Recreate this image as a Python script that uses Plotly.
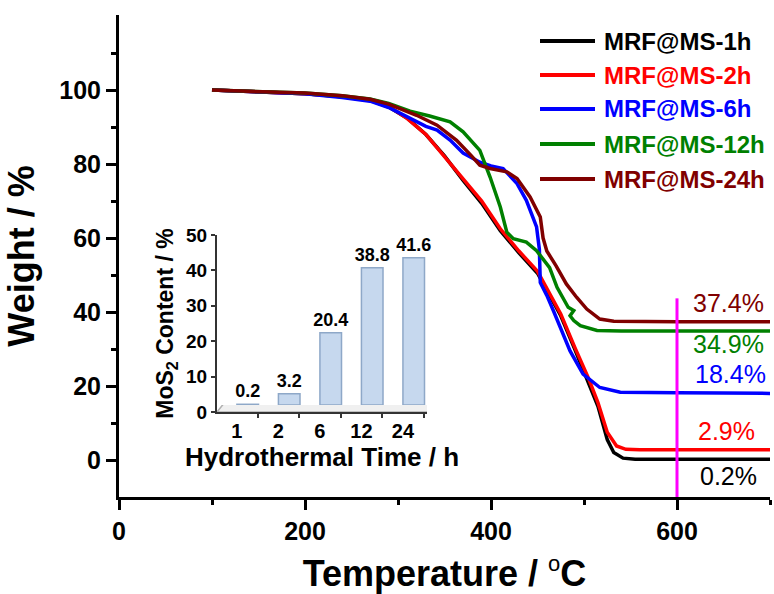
import plotly.graph_objects as go

# ---------------- data ----------------
series_names = ["MRF@MS-1h", "MRF@MS-2h", "MRF@MS-6h", "MRF@MS-12h", "MRF@MS-24h"]
series_colors = ["#000000", "#ff0000", "#0000ff", "#008000", "#800000"]

temp_1h = [100, 150, 200, 240, 270, 290, 310, 330, 350, 370, 390, 410, 430, 450, 460, 475, 490, 505, 515, 525, 532, 542, 555, 600, 650, 700]
weight_1h = [100, 99.6, 99.0, 98.2, 97.2, 95.4, 92.4, 88.0, 82.2, 75.6, 69.4, 62.0, 56.0, 50.5, 46.0, 39.0, 30.0, 21.0, 14.5, 5.5, 2.0, 0.5, 0.2, 0.2, 0.2, 0.2]

temp_2h = [100, 150, 200, 240, 270, 290, 310, 330, 350, 370, 390, 410, 430, 450, 460, 475, 490, 505, 515, 525, 535, 545, 560, 600, 650, 700]
weight_2h = [100, 99.6, 99.0, 98.3, 97.3, 95.6, 92.3, 88.0, 82.0, 76.2, 70.0, 62.5, 56.5, 51.0, 46.5, 39.5, 30.5, 22.0, 15.5, 7.5, 3.8, 2.9, 2.8, 2.8, 2.8, 2.8]

temp_6h = [100, 150, 200, 240, 270, 290, 310, 330, 342, 356, 370, 388, 400, 413, 428, 438, 449, 452, 453, 460, 467, 476, 485, 499, 517, 539, 560, 600, 650, 700]
weight_6h = [100, 99.6, 99.0, 98.0, 97.0, 95.3, 92.7, 90.2, 89.2, 86.5, 83.0, 80.5, 79.5, 78.8, 74.7, 70.2, 63.0, 57.0, 48.0, 44.5, 40.4, 35.0, 29.5, 23.2, 19.6, 18.3, 18.2, 18.2, 18.1, 18.0]

temp_12h = [100, 150, 200, 240, 270, 290, 313, 334, 356, 370, 388, 399, 410, 417, 424, 438, 449, 463, 471, 483, 489, 485, 489, 496, 514, 540, 600, 650, 700]
weight_12h = [100, 99.7, 99.2, 98.5, 97.6, 96.4, 94.3, 93.0, 91.4, 88.7, 83.7, 76.5, 68.4, 61.6, 59.8, 58.9, 56.6, 52.0, 46.7, 41.3, 40.4, 39.0, 37.7, 36.3, 35.0, 34.9, 34.9, 34.9, 34.9]

temp_24h = [100, 150, 200, 240, 270, 290, 320, 342, 363, 378, 388, 399, 417, 428, 442, 453, 456, 460, 470, 481, 492, 503, 517, 532, 560, 600, 650, 700]
weight_24h = [100, 99.7, 99.2, 98.5, 97.5, 96.2, 93.2, 90.5, 86.4, 82.5, 79.7, 78.8, 77.9, 76.1, 71.1, 65.7, 60.0, 56.5, 52.5, 47.6, 44.0, 40.8, 38.1, 37.5, 37.4, 37.4, 37.4, 37.4]

residue_labels = ["0.2%", "2.9%", "18.4%", "34.9%", "37.4%"]

ref_temp = [600, 600]
ref_weight = [-10, 43.7]

hyd_time = ["1", "2", "6", "12", "24"]
mos2_content = [0.2, 3.2, 20.4, 38.8, 41.6]

temps = [temp_1h, temp_2h, temp_6h, temp_12h, temp_24h]
weights = [weight_1h, weight_2h, weight_6h, weight_12h, weight_24h]

# ---------------- layout helpers ----------------
W, H = 774, 594
ML, MR, MT, MB = 119, 4, 15, 97
PW, PH = W - ML - MR, H - MT - MB


def pxx(px):
    return (px - ML) / PW


def pxy(py):
    return (H - MB - py) / PH


FONT = "Liberation Sans, Arial, sans-serif"

fig = go.Figure()

for t, w, name, col in zip(temps, weights, series_names, series_colors):
    fig.add_trace(go.Scatter(x=t, y=w, mode="lines", name=name,
                             line=dict(color=col, width=3.5), showlegend=False))

fig.add_trace(go.Scatter(x=ref_temp, y=ref_weight, mode="lines",
                         line=dict(color="#ff00ff", width=3), showlegend=False,
                         cliponaxis=False))

# inset bars
fig.add_trace(go.Bar(x=hyd_time, y=mos2_content, xaxis="x2", yaxis="y3",
                     width=0.52, offset=0,
                     marker=dict(color="#c6d8ee", line=dict(color="#8ea8c8", width=1.5)),
                     text=[f"{v:.1f}" for v in mos2_content], textposition="outside",
                     constraintext="none", cliponaxis=False,
                     textfont=dict(family=FONT, size=18, color="black", weight="bold"),
                     showlegend=False))

annotations = []
# residue labels (regular weight)
res_pos = {  # label centres (data coords)
    "0.2%": (655, -4.3), "2.9%": (653, 7.9), "18.4%": (657, 23.3),
    "34.9%": (655, 31.4), "37.4%": (655, 42.5)}
for lab, col in zip(residue_labels, series_colors):
    x, y = res_pos[lab]
    annotations.append(dict(x=x, y=y, xref="x", yref="y", text=lab, showarrow=False,
                            font=dict(family=FONT, size=25, color=col),
                            xanchor="center", yanchor="middle"))

# manual legend
shapes = []
legend_rows = [41, 75, 109, 144, 179]
for name, col, ry in zip(series_names, series_colors, legend_rows):
    shapes.append(dict(type="line", xref="paper", yref="paper",
                       x0=pxx(540), x1=pxx(595), y0=pxy(ry), y1=pxy(ry),
                       line=dict(color=col, width=4)))
    annotations.append(dict(x=pxx(602), y=pxy(ry), xref="paper", yref="paper",
                            text=name, showarrow=False, xanchor="left", yanchor="middle",
                            font=dict(family=FONT, size=24, color=col, weight="bold")))

# inset floor (3D base)
shapes.append(dict(type="path", xref="x2", yref="y2", layer="below",
                   path="M -0.48,0 L 4.58,0 L 4.9,4.5 L -0.17,4.5 Z",
                   fillcolor="#f0f0f0", line=dict(color="#b0b0b0", width=1.5)))

axis_common = dict(showgrid=False, zeroline=False, showline=True, linecolor="black",
                   linewidth=3, ticks="outside", ticklen=10, tickwidth=3, tickcolor="black")

fig.update_layout(
    width=W, height=H,
    margin=dict(l=ML, r=MR, t=MT, b=MB, pad=0),
    paper_bgcolor="white", plot_bgcolor="white",
    showlegend=False,
    font=dict(family=FONT, color="black"),
    xaxis=dict(**axis_common, range=[0, 700], domain=[0, 1],
               tickvals=[0, 200, 400, 600],
               minor=dict(tickvals=[100, 300, 500, 700], ticklen=5, tickwidth=3,
                          ticks="outside", tickcolor="black"),
               tickfont=dict(family=FONT, size=25, color="black", weight="bold"),
               title=dict(text='Temperature / <sup><span style="font-size:22px;font-weight:normal">o</span></sup>C',
                          standoff=18,
                          font=dict(family=FONT, size=36, color="black", weight="bold"))),
    yaxis=dict(**axis_common, range=[-10, 120.3], domain=[0, 1],
               tickvals=[0, 20, 40, 60, 80, 100],
               minor=dict(tickvals=[10, 30, 50, 70, 90, 110], ticklen=5, tickwidth=3,
                          ticks="outside", tickcolor="black"),
               tickfont=dict(family=FONT, size=25, color="black", weight="bold"),
               title=dict(text="Weight / %", standoff=14,
                          font=dict(family=FONT, size=36, color="black", weight="bold"))),
    xaxis2=dict(domain=[pxx(217), pxx(427)], anchor="y2", type="category",
                range=[-0.48, 4.58], showgrid=False, zeroline=False,
                showline=True, linecolor="#333333", linewidth=2,
                ticks="outside", tickson="boundaries", ticklen=4, tickwidth=2,
                tickcolor="#333333",
                tickfont=dict(family=FONT, size=20, color="black", weight="bold"),
                title=dict(text="Hydrothermal Time / h", standoff=2,
                           font=dict(family=FONT, size=26, color="black", weight="bold"))),
    yaxis2=dict(domain=[pxy(412), pxy(235)], anchor="x2", range=[0, 50],
                tickvals=[0, 10, 20, 30, 40, 50], showgrid=False, zeroline=False,
                showline=True, linecolor="#333333", linewidth=2,
                ticks="outside", ticklen=4, tickwidth=2, tickcolor="#333333",
                tickfont=dict(family=FONT, size=19, color="black", weight="bold"),
                title=dict(text="MoS<sub>2</sub> Content / %", standoff=6,
                           font=dict(family=FONT, size=23, color="black", weight="bold"))),
    yaxis3=dict(domain=[pxy(405), pxy(228)], anchor="x2", range=[0, 50], visible=False),
    annotations=annotations,
    shapes=shapes,
)

fig.write_html("out.html")
